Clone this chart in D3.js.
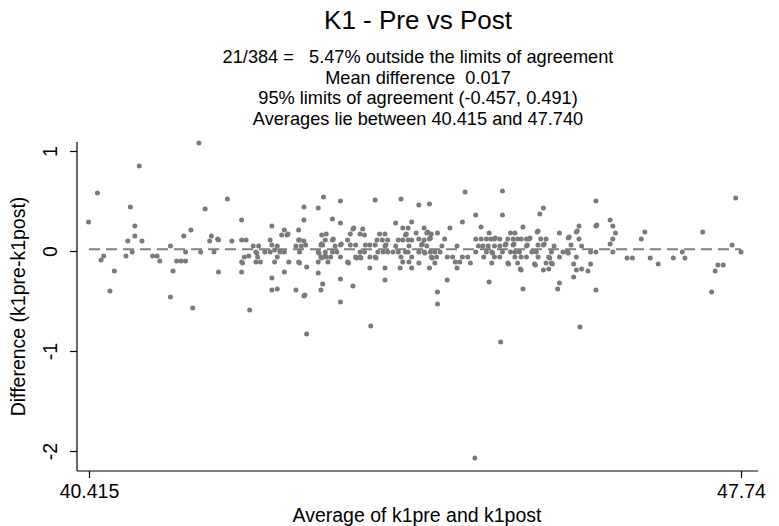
<!DOCTYPE html>
<html><head><meta charset="utf-8">
<script src="https://cdn.jsdelivr.net/npm/d3@7"></script>
<style>body{margin:0;background:#fff}svg{display:block}text{font-family:"Liberation Sans",Arial,sans-serif;fill:#000}</style>
</head><body><div id="chart"></div>
<script>
const titleText = "K1 - Pre vs Post";
const subtitleLines = [
  "21/384 =   5.47% outside the limits of agreement",
  "Mean difference  0.017",
  "95% limits of agreement (-0.457, 0.491)",
  "Averages lie between 40.415 and 47.740"
];
const xTickValues = [40.415, 47.74];
const xTickLabels = ["40.415", "47.74"];
const yTickValues = [1, 0, -1, -2];
const yTickLabels = ["1", "0", "-1", "-2"];
const xTitle = "Average of k1pre and k1post";
const yTitle = "Difference (k1pre-k1post)";
const meanDiff = 0.017;
const avgRange = [40.415, 47.74];

const avg = [
40.41,40.51,40.55,40.58,40.65,40.70,40.83,40.85,40.88,40.90,40.93,40.93,40.98,41.01,41.13,41.18,41.21,41.33,41.33,41.36,
41.40,41.45,41.50,41.48,41.50,41.56,41.58,41.65,41.67,41.72,41.77,41.79,41.87,41.86,41.82,41.87,41.97,42.02,42.13,42.13,
42.18,42.26,42.32,42.29,42.30,42.16,42.21,42.13,42.14,42.31,42.29,42.34,42.13,42.22,42.39,42.45,42.47,42.45,42.47,42.50,
42.53,42.61,42.58,42.64,42.65,42.56,42.61,42.53,42.50,42.47,42.47,42.53,42.61,42.66,42.77,42.77,42.74,42.77,42.78,42.74,
42.83,42.83,43.05,42.99,43.24,43.15,43.24,43.63,43.92,43.86,42.78,42.83,42.80,42.85,42.78,42.86,42.83,42.84,42.86,43.03,
43.08,43.07,43.04,42.99,43.00,43.02,43.03,43.07,43.02,43.03,43.07,43.08,42.99,43.10,43.13,43.15,43.16,43.15,43.20,43.18,
43.24,43.25,43.24,42.99,43.04,43.02,43.24,43.24,43.32,43.33,43.32,43.35,43.38,43.39,43.35,43.41,43.38,43.41,43.42,43.46,
43.47,43.46,43.51,43.46,43.49,43.51,43.52,43.57,43.57,43.63,43.64,43.57,43.58,43.63,43.65,43.68,43.71,43.74,43.77,43.74,
43.75,43.66,43.72,43.77,43.74,43.74,43.83,43.89,43.86,43.89,43.94,44.00,43.94,44.00,43.97,43.98,43.92,43.94,43.91,43.97,
44.04,44.04,44.01,44.00,44.04,44.01,44.04,44.12,44.24,44.09,44.12,44.15,44.16,44.18,44.21,44.22,44.24,44.25,44.26,44.18,
44.12,44.18,44.19,44.21,44.26,44.27,44.32,44.25,44.30,44.12,44.24,44.30,44.33,44.36,44.33,44.33,44.38,44.41,44.47,44.44,
44.44,44.50,44.53,44.55,44.58,44.61,44.55,44.61,44.64,44.67,44.70,44.75,44.76,44.79,44.76,44.82,44.76,44.82,44.84,44.90,
44.85,44.88,44.93,44.91,44.88,44.94,44.95,44.91,44.94,44.97,45.03,44.97,45.03,44.97,44.98,45.03,45.06,45.06,45.09,45.10,
45.06,45.04,45.12,45.18,45.15,45.20,45.12,45.13,45.15,45.20,45.18,45.19,45.20,45.23,45.23,45.26,45.27,45.29,45.27,45.33,
45.36,45.37,45.33,45.34,45.25,45.27,45.33,45.39,45.44,45.45,45.46,45.48,45.52,45.49,45.55,45.46,45.52,45.53,45.46,45.42,
45.43,45.52,45.58,45.55,45.61,45.62,45.58,45.59,45.61,45.64,45.29,45.70,45.70,45.68,45.70,45.74,45.80,45.81,45.79,45.80,
45.83,45.86,45.86,45.89,45.90,45.92,45.92,45.95,45.89,45.89,45.93,45.95,46.02,46.05,46.05,46.11,46.11,46.12,46.11,46.11,
46.27,46.30,46.33,46.30,46.27,46.30,46.46,46.52,46.62,46.66,46.72,46.81,46.98,47.08,47.11,47.31,47.41,47.45,47.48,47.54,
47.64,47.68,47.74
];
const diff = [
0.29,0.58,-0.09,-0.05,-0.40,-0.20,-0.05,0.10,0.44,-0.01,0.25,0.15,0.85,0.10,-0.05,-0.05,-0.10,0.05,-0.46,-0.20,
-0.10,-0.10,-0.10,0.15,-0.01,0.21,-0.57,1.08,-0.01,0.42,0.10,0.15,0.11,0.12,-0.01,-0.21,0.52,0.10,0.31,0.11,
0.11,0.05,0.05,-0.01,-0.02,-0.06,-0.05,-0.11,-0.12,-0.06,-0.11,-0.11,-0.21,-0.59,-0.01,-0.01,0.25,0.11,0.06,0.01,
0.05,0.21,0.16,0.16,0.17,-0.01,-0.01,-0.06,-0.11,-0.27,-0.39,-0.38,-0.21,-0.11,0.21,0.11,0.05,-0.11,-0.12,-0.39,
0.44,0.31,0.54,0.43,0.50,0.32,0.28,0.51,0.52,0.28,0.11,0.10,0.05,0.06,-0.01,-0.16,-0.45,-0.44,-0.83,0.16,
0.17,0.11,0.06,-0.01,-0.02,0.06,0.07,-0.01,-0.06,-0.07,-0.05,-0.06,-0.11,-0.11,-0.06,0.11,0.12,-0.01,-0.01,0.05,
0.06,0.07,-0.06,-0.22,-0.33,-0.39,-0.28,-0.51,-0.11,-0.12,0.11,0.17,0.22,0.23,0.06,0.06,-0.35,-0.06,-0.07,-0.06,
-0.07,-0.01,-0.01,0.17,0.22,0.16,0.06,0.06,-0.06,-0.06,-0.07,-0.17,-0.75,0.06,0.11,0.17,0.11,0.17,0.11,0.05,
0.06,-0.01,-0.01,-0.01,-0.17,-0.29,-0.01,-0.01,0.05,0.11,0.11,0.11,0.23,0.23,0.16,0.17,-0.06,-0.11,-0.17,-0.01,
0.29,0.11,0.05,-0.01,-0.06,-0.11,-0.17,0.46,0.47,0.18,0.12,0.06,0.07,0.23,0.18,0.19,0.12,0.13,0.17,0.11,
-0.01,-0.01,-0.02,0.05,-0.06,-0.07,-0.06,-0.01,-0.01,-0.12,-0.17,-0.12,0.18,-0.01,-0.41,-0.53,0.05,0.12,0.23,-0.06,
-0.29,-0.06,-0.11,-0.17,-0.11,-0.06,0.05,0.29,0.59,-0.06,-0.12,-2.07,0.36,0.05,0.12,0.12,-0.01,0.24,0.05,0.05,
-0.06,0.12,0.12,0.18,-0.01,-0.01,-0.02,-0.31,-0.12,-0.06,-0.06,0.05,0.05,0.12,0.13,0.12,0.60,0.36,0.06,0.07,
-0.01,-0.91,0.12,0.12,0.18,0.18,-0.12,-0.13,-0.01,-0.01,0.06,0.07,-0.06,-0.12,0.12,-0.18,-0.19,0.24,0.12,0.12,
0.12,0.13,0.05,0.06,-0.01,-0.06,-0.06,-0.01,-0.01,0.19,0.20,0.37,0.43,0.12,0.12,0.06,0.06,0.07,-0.06,-0.13,
-0.14,-0.19,-0.18,-0.12,-0.12,-0.13,-0.06,-0.07,-0.01,0.05,-0.38,0.18,-0.06,-0.38,-0.32,-0.01,0.13,0.14,-0.01,-0.02,
0.06,-0.13,-0.26,0.19,0.20,0.25,0.12,0.05,-0.06,-0.19,-0.76,-0.18,-0.20,-0.01,-0.13,0.50,0.25,0.26,-0.01,-0.39,
0.31,0.25,0.18,0.12,0.07,-0.01,-0.07,-0.07,0.12,0.19,-0.07,-0.13,-0.07,-0.01,-0.07,0.19,-0.41,-0.20,-0.14,-0.14,
0.06,0.53,-0.01
];

const W = 779, H = 526;
const plot = {left: 77, right: 758, top: 142, bottom: 471};
const svg = d3.select("#chart").append("svg").attr("width", W).attr("height", H);

const x = d3.scaleLinear().domain(avgRange).range([89, 741]);
const y = d3.scaleLinear().domain([0, 1]).range([251, 151]);

// title
svg.append("text").attr("x", 418).attr("y", 29).attr("text-anchor", "middle")
  .style("font-size", "26px").text(titleText);

// subtitle lines
subtitleLines.forEach((s, i) => {
  svg.append("text").attr("x", 418).attr("y", 63 + i * 20.5).attr("text-anchor", "middle")
    .attr("xml:space", "preserve").style("white-space", "pre")
    .style("font-size", "18.2px").text(s);
});

// mean line
svg.append("line")
  .attr("x1", x(avgRange[0])).attr("x2", x(avgRange[1]))
  .attr("y1", y(meanDiff)).attr("y2", y(meanDiff))
  .attr("stroke", "#808080").attr("stroke-width", 2).attr("stroke-dasharray", "11,6");

// points
const pts = avg.map((a, i) => ({a, d: diff[i]}));
svg.append("g").selectAll("circle").data(pts).join("circle")
  .attr("cx", p => x(p.a)).attr("cy", p => y(p.d)).attr("r", 2.5)
  .attr("fill", "#7a7a7a");

// axes
const xAxis = d3.axisBottom(x).tickValues(xTickValues)
  .tickFormat((d, i) => xTickLabels[i]).tickSize(7).tickPadding(6);
const gx = svg.append("g").attr("transform", `translate(0,${plot.bottom})`).call(xAxis);
gx.select(".domain").remove();
gx.selectAll(".tick line").attr("stroke", "#000").attr("stroke-width", 1.2);
gx.selectAll(".tick text").style("font-size", "19.5px").attr("fill", "#000")
  .attr("font-family", "Liberation Sans, Arial, sans-serif");
svg.append("line").attr("x1", plot.left).attr("x2", plot.right)
  .attr("y1", plot.bottom).attr("y2", plot.bottom).attr("stroke", "#000").attr("stroke-width", 1.2);

const yAxis = d3.axisLeft(y).tickValues(yTickValues)
  .tickFormat((d, i) => yTickLabels[i]).tickSize(7).tickPadding(6);
const gy = svg.append("g").attr("transform", `translate(${plot.left},0)`).call(yAxis);
gy.select(".domain").remove();
gy.selectAll(".tick line").attr("stroke", "#000").attr("stroke-width", 1.2);
gy.selectAll(".tick text").style("font-size", "19.5px").attr("fill", "#000")
  .attr("font-family", "Liberation Sans, Arial, sans-serif")
  .attr("text-anchor", "middle").attr("dy", null).attr("x", null)
  .attr("transform", "translate(-27,0) rotate(-90)").attr("y", 7);
svg.append("line").attr("x1", plot.left).attr("x2", plot.left)
  .attr("y1", plot.top).attr("y2", plot.bottom).attr("stroke", "#000").attr("stroke-width", 1.2);

// axis titles
svg.append("text").attr("x", 417).attr("y", 522).attr("text-anchor", "middle")
  .style("font-size", "19.5px").text(xTitle);
svg.append("text").attr("transform", `translate(25,${(plot.top + plot.bottom) / 2}) rotate(-90)`)
  .attr("text-anchor", "middle").style("font-size", "19.5px").text(yTitle);
</script></body></html>
